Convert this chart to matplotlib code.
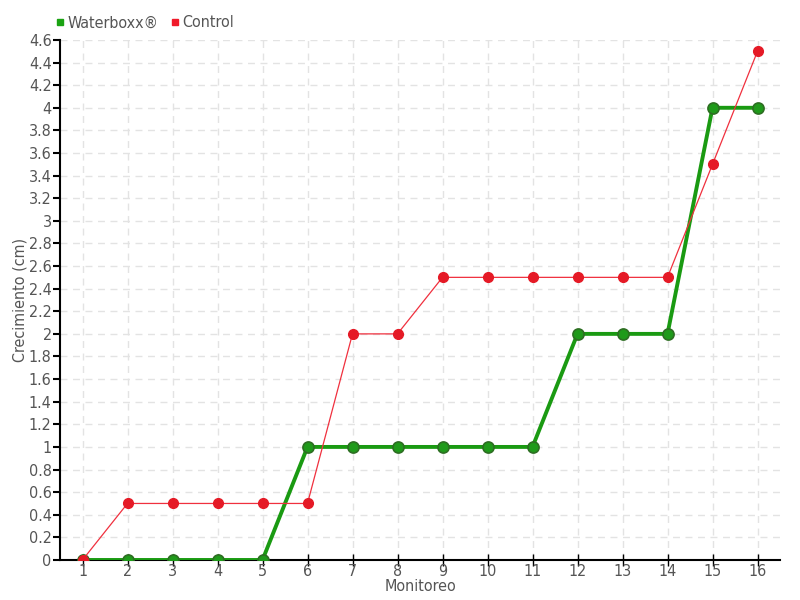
import numpy as np
import matplotlib
matplotlib.use("Agg")
import matplotlib.pyplot as plt
from matplotlib.ticker import FuncFormatter

plt.rcParams['font.family'] = ['DejaVu Sans']
plt.rcParams['font.stretch'] = 'condensed'

monitoreo = list(range(1, 17))
waterboxx = [0, 0, 0, 0, 0, 1, 1, 1, 1, 1, 1, 2, 2, 2, 4, 4]
control = [0, 0.5, 0.5, 0.5, 0.5, 0.5, 2, 2, 2.5, 2.5, 2.5, 2.5, 2.5, 2.5, 3.5, 4.5]

fig = plt.figure(figsize=(8, 6), dpi=100)
ax = fig.add_axes([0.075, 0.0667, 0.9, 0.8667])

ax.plot(monitoreo, waterboxx, color='#1a9a12', lw=2.8, marker='o', ms=8,
        mfc='#1f9a1a', mec='#2d6e22', mew=1.2, zorder=3)
ax.plot(monitoreo, control, color='#f0303e', lw=0.9, marker='o', ms=7,
        mfc='#e51a26', mec='#e51a26', zorder=4)

ax.set_xlim(0.5, 16.5)
ax.set_ylim(0, 4.6)
ax.set_xticks(monitoreo)
ax.set_yticks(np.arange(0, 4.61, 0.2))
ax.yaxis.set_major_formatter(FuncFormatter(lambda v, p: f"{v:.1f}".rstrip('0').rstrip('.') if v else "0"))

ax.grid(True, color='#e3e3e3', ls=(0, (5, 4)), lw=1)
ax.set_axisbelow(True)
for s in ['top', 'right']:
    ax.spines[s].set_visible(False)
ax.spines['left'].set_linewidth(1.5)
ax.spines['bottom'].set_linewidth(1.5)
ax.tick_params(axis='y', direction='out', length=5, width=1.5, labelsize=11.5, colors='#555555', pad=1)
ax.tick_params(axis='x', direction='inout', length=8, width=1, labelsize=11.5, colors='#555555', pad=-1)
ax.tick_params(axis='both', color='black')

ax.set_xlabel('Monitoreo', fontsize=11.5, color='#555555', labelpad=0)
ax.set_ylabel('Crecimiento (cm)', fontsize=11.5, color='#555555', labelpad=1)

ax.legend(handles=[
    plt.Line2D([], [], ls='', marker='s', ms=5, color='#1aa312', label='Waterboxx®'),
    plt.Line2D([], [], ls='', marker='s', ms=5, color='#f01a2a', label='Control')],
    loc='lower left', bbox_to_anchor=(-0.025, 1.0), ncol=2, frameon=False,
    fontsize=11.5, handletextpad=0.0, columnspacing=0.5, handlelength=1.0,
    labelcolor='#555555', borderaxespad=0.2)

fig.savefig('out.png', dpi=100)
